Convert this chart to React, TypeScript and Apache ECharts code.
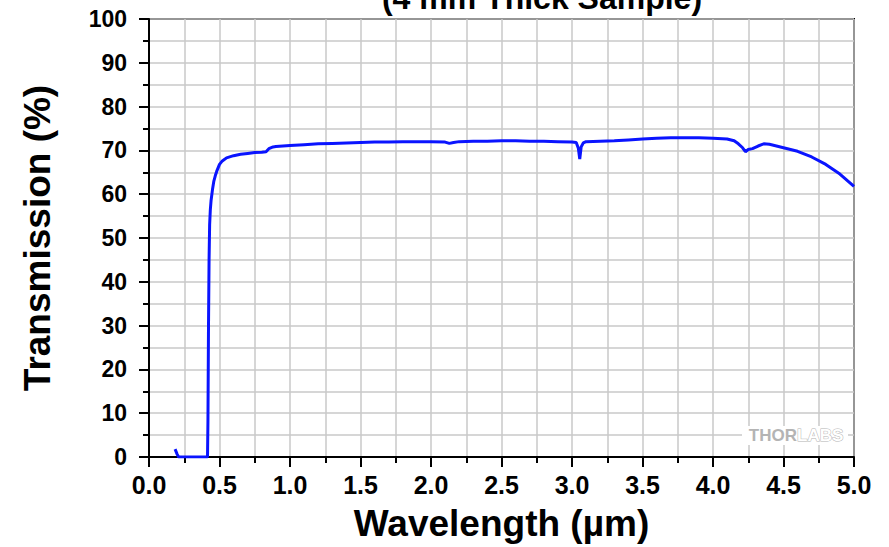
import React, { useEffect, useRef } from "react";
import * as echarts from "echarts";

const wavelengths = [
  0.185, 0.2, 0.21, 0.25, 0.3, 0.35, 0.4, 0.415, 0.418, 0.422, 0.426, 0.43, 0.435, 0.44, 0.45, 0.46,
  0.47, 0.48, 0.49, 0.5, 0.52, 0.55, 0.6, 0.65, 0.7, 0.75, 0.8, 0.83, 0.85, 0.88, 0.9, 0.95, 1.0,
  1.1, 1.2, 1.3, 1.4, 1.5, 1.6, 1.7, 1.8, 1.9, 2.0, 2.1, 2.13, 2.16, 2.2, 2.3, 2.4, 2.5, 2.6, 2.7,
  2.8, 2.9, 3.0, 3.03, 3.045, 3.055, 3.065, 3.08, 3.1, 3.2, 3.3, 3.4, 3.5, 3.6, 3.7, 3.8, 3.9, 4.0,
  4.1, 4.15, 4.18, 4.21, 4.23, 4.25, 4.28, 4.32, 4.36, 4.4, 4.5, 4.6, 4.7, 4.8, 4.9, 5.0,
];

const transmission = [
  1.8, 0.6, 0, 0, 0, 0, 0, 0, 8, 30, 45, 53, 56.5, 58.5, 61, 63, 64.2, 65.2, 66, 66.8, 67.6, 68.3,
  68.8, 69.1, 69.3, 69.5, 69.6, 69.7, 70.4, 70.8, 70.9, 71.0, 71.1, 71.3, 71.5, 71.6, 71.7, 71.8,
  71.9, 71.9, 72.0, 72.0, 72.0, 71.9, 71.6, 71.8, 72.0, 72.1, 72.1, 72.2, 72.2, 72.1, 72.1, 72.0,
  71.9, 71.8, 70.5, 68.0, 70.8, 71.7, 72.0, 72.1, 72.2, 72.4, 72.6, 72.8, 72.9, 72.9, 72.9, 72.8,
  72.6, 72.2, 71.5, 70.6, 69.7, 70.2, 70.4, 71.0, 71.5, 71.4, 70.6, 69.8, 68.5, 66.8, 64.6, 61.8,
];

const titleText = "(4 mm Thick Sample)";
const xAxisName = "Wavelength (µm)";
const yAxisName = "Transmission (%)";

const FONT = "'Liberation Sans', Arial, sans-serif";

export default function App() {
  const ref = useRef<HTMLDivElement>(null);

  useEffect(() => {
    if (!ref.current) return;
    const chart = echarts.init(ref.current, null, { renderer: "svg" });
    const data = wavelengths.map((w, i) => [w, transmission[i]]);
    const gridColor = "#c8c8c8";
    chart.setOption({
      animation: false,
      backgroundColor: "#ffffff",
      grid: {
        left: 149,
        right: 35,
        top: 19,
        bottom: 90,
        show: true,
        borderColor: "#000",
        borderWidth: 2,
        backgroundColor: "transparent",
      },
      graphic: [
        {
          type: "text",
          x: 542,
          y: -2,
          z: 10,
          style: {
            text: titleText,
            font: `bold 32px ${FONT}`,
            fill: "#000",
            align: "center",
            verticalAlign: "middle",
          },
        },
        {
          type: "rect",
          z: 3,
          shape: { x: 742, y: 426, width: 106, height: 19 },
          style: { fill: "#ffffff" },
        },
        {
          type: "text",
          x: 797,
          y: 435,
          z: 10,
          style: {
            text: "THOR",
            font: `bold 17px ${FONT}`,
            fill: "#b4b4b4",
            align: "right",
            verticalAlign: "middle",
          },
        },
        {
          type: "text",
          x: 797,
          y: 435,
          z: 10,
          style: {
            text: "LABS",
            font: `bold 17px ${FONT}`,
            fill: "#ffffff",
            stroke: "#b4b4b4",
            lineWidth: 1,
            align: "left",
            verticalAlign: "middle",
          },
        },
      ],
      xAxis: {
        type: "value",
        min: 0,
        max: 5,
        interval: 0.5,
        name: xAxisName,
        nameLocation: "middle",
        nameGap: 48,
        nameTextStyle: { fontFamily: FONT, fontWeight: "bold", fontSize: 37, color: "#000" },
        axisLine: { show: true, lineStyle: { color: "#000", width: 2 } },
        axisTick: { show: true, inside: false, length: 10, lineStyle: { color: "#000", width: 2 } },
        minorTick: { show: true, splitNumber: 2, length: 6, lineStyle: { color: "#000", width: 2 } },
        axisLabel: {
          fontFamily: FONT,
          fontWeight: "bold",
          fontSize: 25,
          color: "#000",
          margin: 15,
          formatter: (v: number) => v.toFixed(1),
        },
        splitLine: { show: true, lineStyle: { color: gridColor, width: 1.5 } },
        minorSplitLine: { show: true, lineStyle: { color: gridColor, width: 1.5 } },
      },
      yAxis: {
        type: "value",
        min: 0,
        max: 100,
        interval: 10,
        name: yAxisName,
        nameLocation: "middle",
        nameGap: 93,
        nameTextStyle: { fontFamily: FONT, fontWeight: "bold", fontSize: 37, color: "#000" },
        axisLine: { show: true, lineStyle: { color: "#000", width: 2 } },
        axisTick: { show: true, inside: false, length: 10, lineStyle: { color: "#000", width: 2 } },
        minorTick: { show: true, splitNumber: 2, length: 6, lineStyle: { color: "#000", width: 2 } },
        axisLabel: {
          fontFamily: FONT,
          fontWeight: "bold",
          fontSize: 23,
          color: "#000",
          margin: 22,
        },
        splitLine: { show: true, lineStyle: { color: gridColor, width: 1.5 } },
        minorSplitLine: { show: true, lineStyle: { color: gridColor, width: 1.5 } },
      },
      series: [
        {
          type: "line",
          data,
          showSymbol: false,
          symbol: "none",
          smooth: false,
          lineStyle: { color: "#0a14ff", width: 3 },
          z: 5,
        },
      ],
    });
    return () => chart.dispose();
  }, []);

  return <div ref={ref} style={{ width: 889, height: 547, position: "absolute", left: 0, top: 0 }} />;
}
